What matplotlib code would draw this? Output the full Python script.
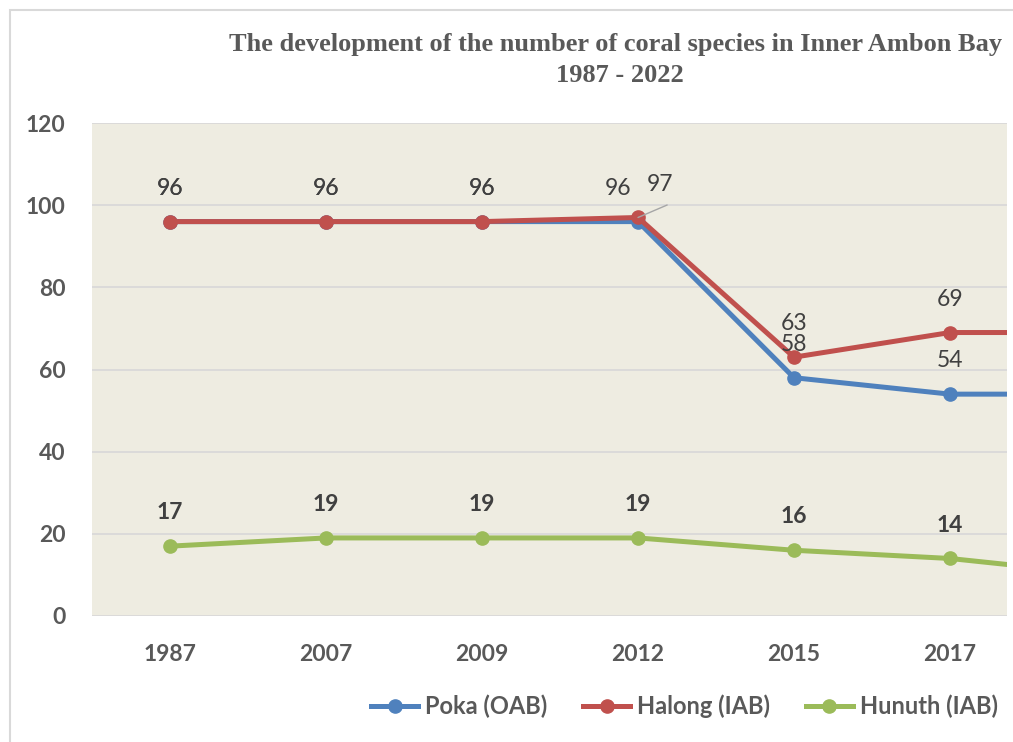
import numpy as np
import matplotlib.pyplot as plt
from matplotlib.lines import Line2D
from matplotlib.patches import Rectangle

plt.rcParams['font.family'] = ['Lato', 'DejaVu Sans']

# data (last year is cut off in the original picture)
years = ['1987', '2007', '2009', '2012', '2015', '2017', '2022']
poka = [96, 96, 96, 96, 58, 54, 54]
halong = [96, 96, 96, 97, 63, 69, 69]
hunuth = [17, 19, 19, 19, 16, 14, 10]

names = ['Poka (OAB)', 'Halong (IAB)', 'Hunuth (IAB)']
colors = ['#4F81BD', '#C0504D', '#9BBB59']

W, H = 1013, 742
txt = '#404040'
axis_txt = '#595959'

fig = plt.figure(figsize=(W / 100, H / 100), dpi=100)
ax = fig.add_axes([92 / W, 1 - 616 / H, (1007 - 92) / W, (616 - 123) / H])
ax.set_facecolor('#EEECE1')

x = np.arange(len(years))
for vals, c in zip([poka, halong, hunuth], colors):
    ax.plot(x, vals, color=c, lw=3.6, marker='o', ms=9.5, solid_capstyle='round')

ax.set_yticks(range(0, 121, 20))
ax.set_xticks(x)
ax.set_xticklabels(years)
# the original chart is cropped on the right, so only part of the last step shows
ax.set_xlim(-0.5, -0.5 + 915 / 156)
ax.set_ylim(0, 120)
ax.grid(axis='y', color='#D9D9D9', lw=1.3)
ax.set_axisbelow(True)
for s in ax.spines.values():
    s.set_visible(False)
ax.tick_params(length=0)
ax.tick_params(axis='y', pad=19)
ax.tick_params(axis='x', pad=20)
for lab in ax.get_xticklabels() + ax.get_yticklabels():
    lab.set_fontsize(16.5)
    lab.set_fontweight('bold')
    lab.set_color(axis_txt)

# data labels
def put_labels(vals, bold=False, shifts=None):
    for i, v in enumerate(vals):
        dx = 0
        if shifts and i in shifts:
            dx = shifts[i]
        ax.annotate(str(v), (i, v), xytext=(dx, 24), textcoords='offset points',
                    ha='center', va='center', fontsize=16.5, color=txt,
                    fontweight='bold' if bold else 'normal', annotation_clip=True)

put_labels(poka, shifts={3: -14})
put_labels(halong, shifts={3: 16})
put_labels(hunuth, bold=True)

# leader line for the moved 97 label
ax.annotate('', (3, 97), xytext=(21, 9), textcoords='offset points',
            arrowprops=dict(arrowstyle='-', color='#A6A6A6', lw=1, shrinkA=0, shrinkB=0))

# title
fig.text(616 / W, 1 - 45 / H,
         'The development of the number of coral species in Inner Ambon Bay',
         ha='center', va='center', family='Liberation Serif', fontweight='bold',
         fontsize=19, color=axis_txt)
fig.text(620 / W, 1 - 75 / H, '1987 - 2022', ha='center', va='center',
         family='Liberation Serif', fontweight='bold', fontsize=19, color=axis_txt)

# legend
handles = [Line2D([], [], color=c, lw=3.6, marker='o', ms=9.5) for c in colors]
fig.legend(handles, names, loc='center left', bbox_to_anchor=(371 / W, 1 - 706 / H),
           ncol=3, frameon=False, handlelength=2.0, handletextpad=0.3,
           columnspacing=1.5, borderpad=0, borderaxespad=0,
           prop={'weight': 'bold', 'size': 17})
for t in fig.legends[0].get_texts():
    t.set_color(axis_txt)

# chart border (only top and left visible in the crop)
fig.add_artist(Rectangle((10 / W, -0.1), 1.2, 1.1 - 10 / H, transform=fig.transFigure,
                         fill=False, ec='#D9D9D9', lw=1.5))

fig.savefig('out.png', dpi=100)
